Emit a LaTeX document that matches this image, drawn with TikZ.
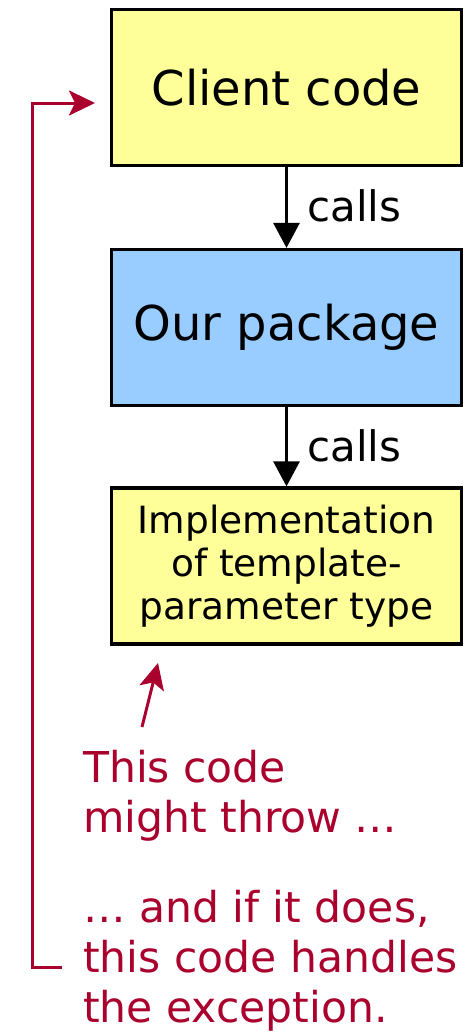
\documentclass[tikz,border=0pt]{standalone}
\usepackage{fontspec}
\setmainfont{DejaVu Sans}
\usetikzlibrary{arrows.meta}
\definecolor{boxyellow}{RGB}{255,255,153}
\definecolor{boxblue}{RGB}{153,204,255}
\definecolor{note}{RGB}{170,0,45}
\tikzset{
  box/.style={draw=black, line width=3.2pt, minimum width=350pt, minimum height=156pt, inner sep=0pt, align=center},
  callarrow/.style={line width=2.8pt, -{Triangle[length=25pt,width=26pt]}},
  calllabel/.style={anchor=base west, inner sep=0pt, font=\fontsize{42}{48}\selectfont},
  notetext/.style={anchor=base west, inner sep=0pt, align=left, text=note, font=\fontsize{42.5}{50}\selectfont},
  notearrow/.style={draw=note, line width=3pt, -{Stealth[length=26pt,width=25pt,inset=6pt]}}
}
\begin{document}
\begin{tikzpicture}[x=1pt,y=-1pt]
\useasboundingbox (0,0) rectangle (469,1033);
\node[box, fill=boxyellow, font=\fontsize{48}{56}\selectfont] (client) at (286.5,87.5) {Client code};
\node[box, fill=boxblue, font=\fontsize{48}{56}\selectfont] (pkg) at (286.5,327.5) {Our package};
\node[box, fill=boxyellow, font=\fontsize{37.5}{43}\selectfont] (impl) at (286.5,566) {Implementation\\of template-\\parameter type};
\draw[callarrow] (client.south) -- (pkg.north);
\draw[callarrow] (pkg.south) -- (impl.north);
\node[calllabel] (calls1) at (307,221) {calls};
\node[calllabel] (calls2) at (307,461) {calls};
\node[notetext] (throw) at (83,832) {This code\\might throw …};
\node[notetext] (handles) at (83,1022) {… and if it does,\\this code handles\\the exception.};
\coordinate (throwtail) at (142,727);
\coordinate (throwtip) at (158,663);
\draw[notearrow] (throwtail) -- (throwtip);
\coordinate (handlestail) at (62,967);
\coordinate (clienttip) at (95,103);
\draw[notearrow] (handlestail) -- (32,967) |- (clienttip);
\end{tikzpicture}
\end{document}
